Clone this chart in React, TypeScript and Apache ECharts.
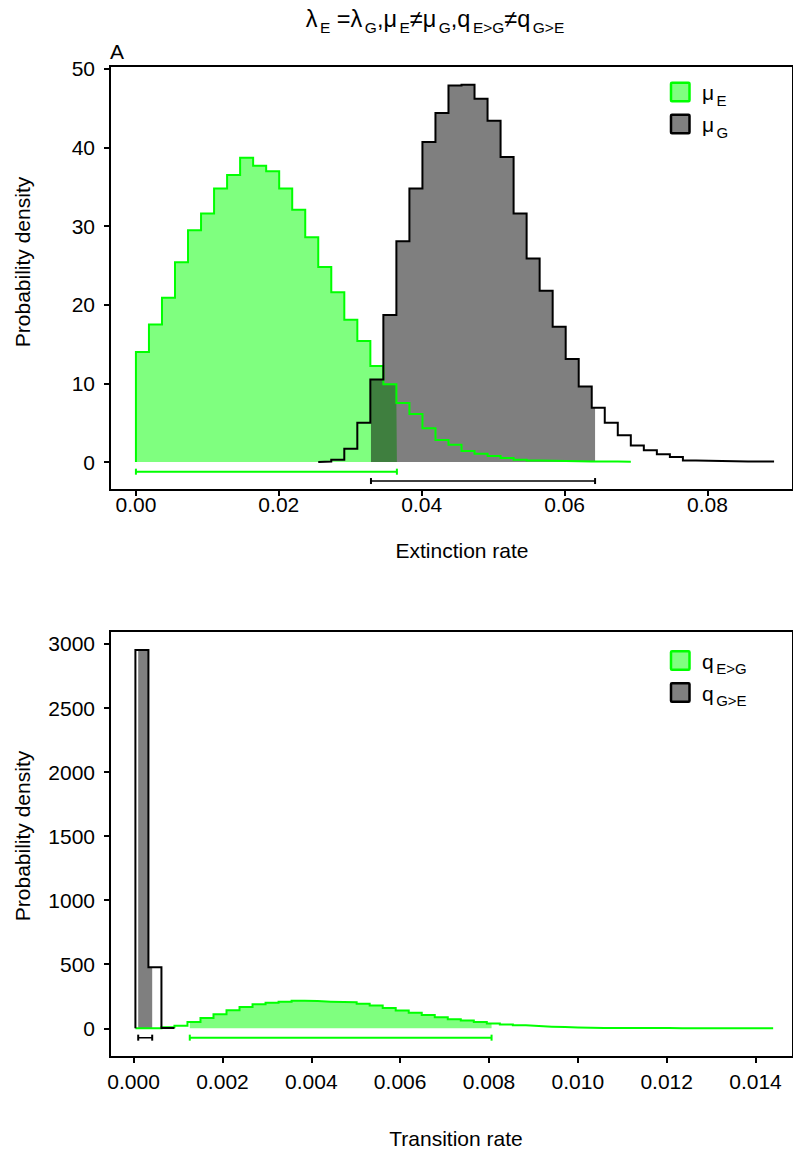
import React, { useEffect, useRef } from "react";
import * as echarts from "echarts";

const FONT = "'Liberation Sans', Arial, Helvetica, sans-serif";

// ---------- Panel A: extinction rate ----------
const extBinWidth = 0.001823;
const muEStart = 0.0;
const muEDensity = [
  14.0, 17.5, 20.9, 25.4, 29.5, 31.6, 34.8, 36.5, 38.7, 37.7,
  37.0, 34.8, 32.1, 28.6, 24.8, 21.6, 18.1, 15.4, 12.2, 9.9,
  7.5, 6.1, 4.3, 2.8, 2.2, 1.4, 1.06, 0.76, 0.5, 0.3,
  0.2, 0.15, 0.12, 0.1, 0.08, 0.06, 0.05, 0.04,
];
const muGStart = 0.02552;
const muGDensity = [
  0.05, 0.3, 1.7, 5.0, 10.5, 18.7, 28.1, 34.8, 40.7, 44.4,
  47.9, 48.0, 46.2, 43.4, 38.8, 31.6, 25.9, 21.8, 17.2, 13.1,
  9.6, 6.9, 5.0, 3.4, 2.1, 1.5, 1.0, 0.64, 0.2, 0.15,
  0.12, 0.1, 0.08, 0.05, 0.05,
];
const muEHpd = [0.0, 0.03653];
const muGHpd = [0.0329, 0.06427];
const extXTicks = [0, 0.02, 0.04, 0.06, 0.08];
const extYTicks = [0, 10, 20, 30, 40, 50];

// ---------- Panel B: transition rate ----------
const trBinWidth = 0.000293;
const qEGStart = 0.00004;
const qEGDensity = [
  0, 0, 8, 20, 49, 80, 109, 140, 166, 187,
  200, 208, 216, 213, 208, 205, 203, 192, 177, 158,
  138, 122, 104, 86, 70, 60, 49, 37, 29, 23,
  18, 13, 10, 6, 4, 3, 3, 2, 2, 2,
  1.5, 1, 1, 1, 1, 0.8, 0.6, 0.5, 0.5,
];
const qGEStart = 0.00004;
const qGEDensity = [2953, 476, 3];
const qEGHpd = [0.001264, 0.008058];
const qGEHpd = [0.000103, 0.000418];
const trXTicks = [0, 0.002, 0.004, 0.006, 0.008, 0.01, 0.012, 0.014];
const trYTicks = [0, 500, 1000, 1500, 2000, 2500, 3000];

const GREEN = "#00ff00";
const GREEN_FILL = "rgba(0,255,0,0.5)";
const GRAY_FILL = "rgba(0,0,0,0.5)";
const FS = 21;

function stepLine(start: number, width: number, vals: number[]) {
  const pts: number[][] = [[start, 0]];
  vals.forEach((v, i) => {
    pts.push([start + i * width, v], [start + (i + 1) * width, v]);
  });
  return pts;
}

function clippedArea(start: number, width: number, vals: number[], lo: number, hi: number) {
  const valueAt = (x: number) => {
    const i = Math.min(vals.length - 1, Math.max(0, Math.floor((x - start) / width + 1e-9)));
    return vals[i];
  };
  const a = Math.max(lo, start);
  const b = Math.min(hi, start + vals.length * width);
  const pts: number[][] = [[a, valueAt(a)]];
  for (let i = 1; i < vals.length; i++) {
    const e = start + i * width;
    if (e > a && e < b) pts.push([e, vals[i - 1]], [e, vals[i]]);
  }
  pts.push([b, valueAt(b - 1e-12)]);
  return pts;
}

function fillSeries(data: number[][], color: string, xi: number, z: number) {
  return {
    type: "line", xAxisIndex: xi, yAxisIndex: xi, data, symbol: "none", showSymbol: false,
    lineStyle: { width: 0, opacity: 0 }, areaStyle: { color, opacity: 1 }, z, silent: true,
  };
}
function lineSeries(data: number[][], color: string, xi: number, z: number, w = 2) {
  return {
    type: "line", xAxisIndex: xi, yAxisIndex: xi, data, symbol: "none", showSymbol: false,
    lineStyle: { width: w, color, join: "miter", cap: "butt" }, z, silent: true,
  };
}
function hpdSeries(range: number[], y: number, color: string, xi: number, z: number, w: number) {
  return {
    type: "line", xAxisIndex: xi, yAxisIndex: xi,
    data: [[range[0], y], [range[1], y]],
    symbol: "rect", symbolSize: [2, 6], showSymbol: true,
    itemStyle: { color }, lineStyle: { width: w, color }, z, silent: true,
  };
}

const tickStyle = { show: true, length: 6, inside: false, lineStyle: { color: "#000", width: 2 } };
const labelStyle = { color: "#000", fontSize: FS, fontFamily: FONT };
const axisLineStyle = { show: true, onZero: false, lineStyle: { color: "#000", width: 2 } };

function rich(main: number, sub: number, drop: number) {
  return {
    m: { fontSize: main, fontFamily: FONT, font: `${main}px ${FONT}`, fill: "#000", lineHeight: main + 4 },
    s: { fontSize: sub, fontFamily: FONT, font: `${sub}px ${FONT}`, fill: "#000", lineHeight: sub, padding: [drop, 0, 0, 2.5] },
  };
}

function legendItem(y: number, fill: string, stroke: string, text: string) {
  return [
    {
      type: "rect", shape: { x: 671, y: y - 9, width: 18.5, height: 18.5, r: 1 },
      style: { fill, stroke, lineWidth: 2.5 },
    },
    {
      type: "text", x: 702, y: y + 1,
      style: { text, font: `21px ${FONT}`, fontSize: 21, fontFamily: FONT, rich: rich(21, 15, 15), textAlign: "left", textVerticalAlign: "middle" },
    },
  ];
}

function plainText(x: number, y: number, text: string, rotation = 0, align = "center") {
  return {
    type: "text", x, y, rotation,
    style: { text, fontSize: FS, fontFamily: FONT, font: `${FS}px ${FONT}`, fill: "#000", textAlign: align, textVerticalAlign: "middle" },
  };
}

export default function App() {
  const ref = useRef<HTMLDivElement>(null);
  useEffect(() => {
    if (!ref.current) return;
    const chart = echarts.init(ref.current, null, { renderer: "svg" });
    const option = {
      animation: false,
      backgroundColor: "#fff",
      grid: [
        { left: 110, top: 66, width: 685, height: 424, show: true, borderColor: "#000", borderWidth: 2, backgroundColor: "transparent" },
        { left: 110, top: 631, width: 685, height: 426, show: true, borderColor: "#000", borderWidth: 2, backgroundColor: "transparent" },
      ],
      xAxis: [
        {
          type: "value", gridIndex: 0, min: -0.003629, max: 0.091975,
          axisLine: axisLineStyle, splitLine: { show: false },
          axisTick: { ...tickStyle, customValues: extXTicks },
          axisLabel: { ...labelStyle, margin: 4, customValues: extXTicks, formatter: (v: number) => v.toFixed(2) },
        },
        {
          type: "value", gridIndex: 1, min: -0.000532, max: 0.014844,
          axisLine: axisLineStyle, splitLine: { show: false },
          axisTick: { ...tickStyle, customValues: trXTicks },
          axisLabel: { ...labelStyle, margin: 14, customValues: trXTicks, formatter: (v: number) => v.toFixed(3) },
        },
      ],
      yAxis: [
        {
          type: "value", gridIndex: 0, min: -3.56, max: 50.38,
          axisLine: axisLineStyle, splitLine: { show: false },
          axisTick: { ...tickStyle, customValues: extYTicks },
          axisLabel: { ...labelStyle, margin: 15, customValues: extYTicks, formatter: (v: number) => String(v) },
        },
        {
          type: "value", gridIndex: 1, min: -224, max: 3101,
          axisLine: axisLineStyle, splitLine: { show: false },
          axisTick: { ...tickStyle, customValues: trYTicks },
          axisLabel: { ...labelStyle, margin: 15, customValues: trYTicks, formatter: (v: number) => String(v) },
        },
      ],
      series: [
        fillSeries(clippedArea(muEStart, extBinWidth, muEDensity, muEHpd[0], muEHpd[1]), GREEN_FILL, 0, 1),
        fillSeries(clippedArea(muGStart, extBinWidth, muGDensity, muGHpd[0], muGHpd[1]), GRAY_FILL, 0, 2),
        lineSeries(stepLine(muEStart, extBinWidth, muEDensity), GREEN, 0, 3),
        lineSeries(stepLine(muGStart, extBinWidth, muGDensity), "#000", 0, 4),
        hpdSeries(muEHpd, -1.23, GREEN, 0, 5, 2),
        hpdSeries(muGHpd, -2.42, "#000", 0, 5, 1.5),

        fillSeries(clippedArea(qEGStart, trBinWidth, qEGDensity, qEGHpd[0], qEGHpd[1]), GREEN_FILL, 1, 1),
        fillSeries(clippedArea(qGEStart, trBinWidth, qGEDensity, qGEHpd[0], qGEHpd[1]), GRAY_FILL, 1, 2),
        lineSeries(stepLine(qEGStart, trBinWidth, qEGDensity), GREEN, 1, 3),
        lineSeries(stepLine(qGEStart, trBinWidth, qGEDensity), "#000", 1, 4),
        hpdSeries(qEGHpd, -73, GREEN, 1, 5, 2),
        hpdSeries(qGEHpd, -73, "#000", 1, 5, 1.5),
      ],
      graphic: [
        {
          type: "text", x: 435, y: 19,
          style: {
            text: "{m|λ}{s|E}{m| =λ}{s|G}{m|,μ}{s|E}{m|≠μ}{s|G}{m|,q}{s|E>G}{m|≠q}{s|G>E}",
            font: `23.5px ${FONT}`, fontSize: 23.5, fontFamily: FONT,
            rich: rich(23.5, 15.5, 16.5), textAlign: "center", textVerticalAlign: "middle",
          },
        },
        plainText(110, 51.5, "A", 0, "left"),
        ...legendItem(91.7, "#80ff80", GREEN, "{m|μ}{s|E}"),
        ...legendItem(123.7, "#808080", "#000", "{m|μ}{s|G}"),
        ...legendItem(660.3, "#80ff80", GREEN, "{m|q}{s|E>G}"),
        ...legendItem(692.2, "#808080", "#000", "{m|q}{s|G>E}"),
        plainText(22.5, 262, "Probability density", Math.PI / 2),
        plainText(22.5, 836, "Probability density", Math.PI / 2),
        plainText(462, 550, "Extinction rate"),
        plainText(456, 1138, "Transition rate"),
      ],
    };
    chart.setOption(option as any);
    return () => chart.dispose();
  }, []);
  return (
    <div
      ref={ref}
      style={{ position: "absolute", left: 0, top: 0, width: 793, height: 1150, background: "#fff" }}
    />
  );
}
